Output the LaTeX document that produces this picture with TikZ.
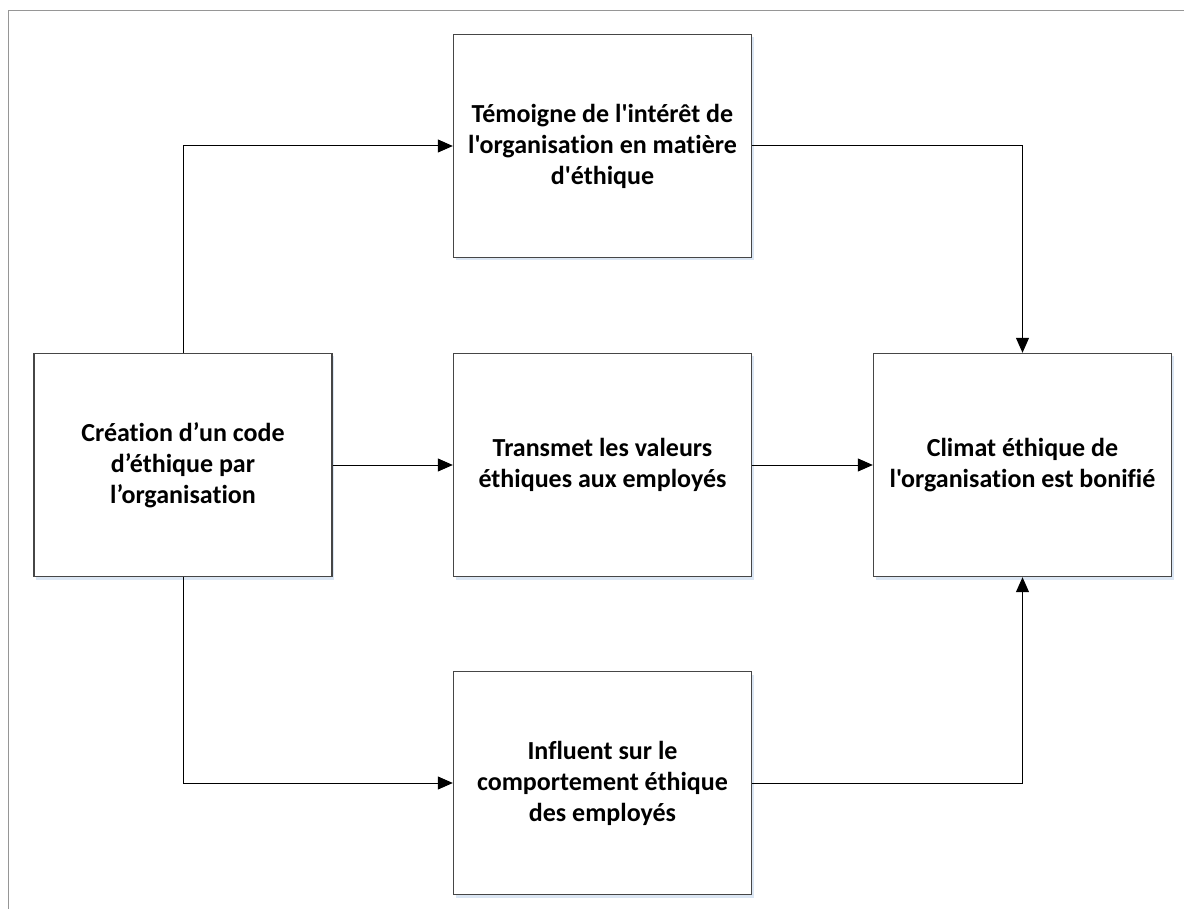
\documentclass[tikz,border=0pt]{standalone}
\usepackage{fontspec}
\newfontfamily\boxfont{Carlito}[Ligatures=NoCommon]
\usetikzlibrary{arrows.meta,shadows}
\definecolor{framegray}{RGB}{150,150,150}
\definecolor{boxedge}{RGB}{70,70,70}
\definecolor{glow}{RGB}{205,220,238}
\begin{document}
\begin{tikzpicture}[x=1pt,y=-1pt,
  stepbox/.style={draw=boxedge, line width=1.4pt, fill=white,
    minimum width=298pt, minimum height=223pt, inner sep=0pt,
    align=center,
    font=\boxfont\fontsize{26}{31}\selectfont\bfseries,
    drop shadow={shadow xshift=2pt, shadow yshift=-3pt, fill=glow, opacity=0.7, draw=none}},
  link/.style={draw=black, line width=1pt},
  flow/.style={link, -{Triangle[length=15pt, width=13pt]}}]
\useasboundingbox (0,0) rectangle (1184,909);
\fill[white] (0,0) rectangle (1184,909);
% page frame
\draw[framegray, line width=1pt] (8.5,909) -- (8.5,11) -- (1184,11);

% boxes
\node[stepbox] (code)    at (183,465)    {Création d’un code\\d’éthique par\\l’organisation};
\node[stepbox] (interet) at (602.5,146)  {Témoigne de l'intérêt de\\l'organisation en matière\\d'éthique};
\node[stepbox] (valeurs) at (602.5,465)  {Transmet les valeurs\\éthiques aux employés};
\node[stepbox] (compo)   at (602.5,783)  {Influent sur le\\comportement éthique\\des employés};
\node[stepbox] (climat)  at (1022.5,465) {Climat éthique de\\l'organisation est bonifié};

% connectors
\draw[flow] (code.north) |- (interet.west);
\draw[flow] (code.east) -- (valeurs.west);
\draw[flow] (code.south) |- (compo.west);
\draw[flow] (interet.east) -| (climat.north);
\draw[flow] (valeurs.east) -- (climat.west);
\draw[flow] (compo.east) -| (climat.south);
\end{tikzpicture}
\end{document}
